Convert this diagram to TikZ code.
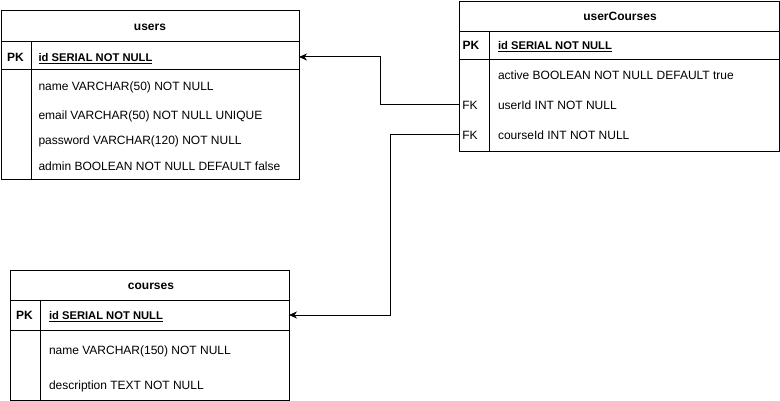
\documentclass[tikz,border=0pt]{standalone}
\usepackage{fontspec}
\setmainfont{Liberation Sans}
\usetikzlibrary{arrows.meta}

\begin{document}
\begin{tikzpicture}[x=1pt,y=-1pt,line width=1pt,
  tablebox/.style={draw,anchor=north west,inner sep=0pt,outer sep=0pt},
  cell/.style={inner sep=0pt,text height=8.6pt,text depth=0pt,font=\fontsize{12}{14}\selectfont},
  head/.style={cell,font=\fontsize{12}{14}\selectfont\bfseries},
  keycell/.style={cell,anchor=west,font=\fontsize{11.2}{14}\selectfont\bfseries},
  fk/.style={-{Stealth[length=8pt,width=7pt,inset=2.5pt]}}]
\useasboundingbox (0,0) rectangle (780,401);

\node[tablebox,minimum width=298pt,minimum height=169.5pt] (users) at (1,10.5) {};
\draw (1,41.5) -- (299,41.5);
\draw (1,70) -- (299,70);
\draw (31,41.5) -- (31,180);
\node[head] (usershead) at (150,26) {users};
\node[head] (userspk) at (15.5,57) {PK};
\node[keycell] (usersid) at (38,57) {\underline{id SERIAL NOT NULL}};
\node[cell,anchor=west] (usersname) at (38,86) {name VARCHAR(50) NOT NULL};
\node[cell,anchor=west] (usersemail) at (38,115) {email VARCHAR(50) NOT NULL UNIQUE};
\node[cell,anchor=west] (userspassword) at (38,140.5) {password VARCHAR(120) NOT NULL};
\node[cell,anchor=west] (usersadmin) at (38,166) {admin BOOLEAN NOT NULL DEFAULT false};

\node[tablebox,minimum width=320pt,minimum height=149.5pt] (userCourses) at (459,2) {};
\draw (459,31.5) -- (779,31.5);
\draw (459,60) -- (779,60);
\draw (489,31.5) -- (489,151.5);
\node[head] (uchead) at (620,16.5) {userCourses};
\node[head] (ucpk) at (471,45) {PK};
\node[keycell] (ucid) at (497.5,45) {\underline{id SERIAL NOT NULL}};
\node[cell,anchor=west] (ucactive) at (497.5,75.5) {active BOOLEAN NOT NULL DEFAULT true};
\node[cell] (ucfkuser) at (470,105) {FK};
\node[cell,anchor=west] (ucuser) at (497.5,105) {userId INT NOT NULL};
\node[cell] (ucfkcourse) at (470,135) {FK};
\node[cell,anchor=west] (uccourse) at (497.5,135) {courseId INT NOT NULL};

\node[tablebox,minimum width=279pt,minimum height=129.5pt] (courses) at (10,270.5) {};
\draw (10,300) -- (289,300);
\draw (10,330) -- (289,330);
\draw (40,300) -- (40,400);
\node[head] (courseshead) at (151,285) {courses};
\node[head] (coursespk) at (24.5,315) {PK};
\node[keycell] (coursesid) at (48.5,315) {\underline{id SERIAL NOT NULL}};
\node[cell,anchor=west] (coursesname) at (48.5,350.5) {name VARCHAR(150) NOT NULL};
\node[cell,anchor=west] (coursesdesc) at (48.5,385) {description TEXT NOT NULL};

\draw[fk] (ucuser -| userCourses.west) -- ++(-79,0) |- (usersid -| users.east);
\draw[fk] (uccourse -| userCourses.west) -- ++(-68.5,0) |- (coursesid -| courses.east);
\end{tikzpicture}
\end{document}
